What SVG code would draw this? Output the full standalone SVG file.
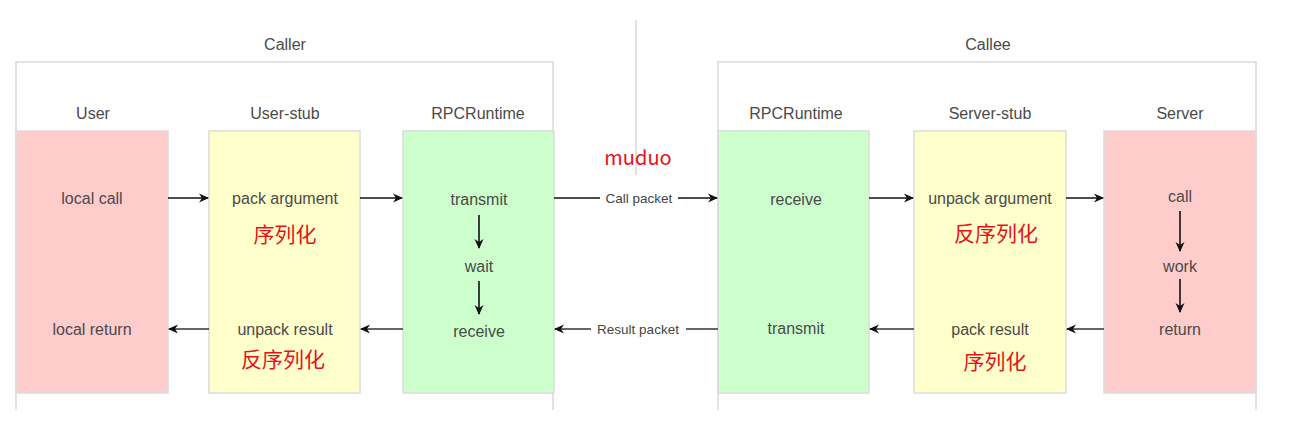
<svg xmlns="http://www.w3.org/2000/svg" width="1295" height="429" viewBox="0 0 1295 429">
<style>
.cont{fill:none;stroke:#d9d9d9;stroke-width:1.5}
.t{font-family:"Liberation Sans",Arial,sans-serif;font-size:16px;fill:#4a4a4a;text-anchor:middle}
.s{font-family:"Liberation Sans",Arial,sans-serif;font-size:13.5px;fill:#444;text-anchor:middle}
.r{font-family:"Noto Sans CJK SC",sans-serif;font-size:21px;fill:#e8101a;text-anchor:middle}
.pink{fill:#ffcccc;stroke:#dcdcdc;stroke-width:1.5}
.yel{fill:#ffffcc;stroke:#dcdcdc;stroke-width:1.5}
.grn{fill:#ccffcc;stroke:#dcdcdc;stroke-width:1.5}
.a{stroke:#111;stroke-width:1.6;fill:none;marker-end:url(#ah)}
.ag{stroke:#333;stroke-width:1.6;fill:none;marker-end:url(#ah)}
</style>
<defs>
<marker id="ah" viewBox="0 0 10 10" refX="9" refY="5" markerWidth="10" markerHeight="10" markerUnits="userSpaceOnUse" orient="auto">
<path d="M0,0.5 L10,5 L0,9.5 L3,5 z" fill="#111"/>
</marker>
</defs>
<rect width="1295" height="429" fill="#fff"/>
<g id="caller">
<path class="cont" d="M16,410 V62 H553 V410"/>
<text class="t" x="285" y="50">Caller</text>
</g>
<g id="callee">
<path class="cont" d="M718,410 V62 H1256 V410"/>
<text class="t" x="988" y="50">Callee</text>
</g>
<line x1="636" y1="20" x2="636" y2="175" stroke="#cfcfcf" stroke-width="1.2"/>
<g id="user">
<text class="t" x="93" y="119">User</text>
<rect class="pink" x="16" y="131" width="152" height="262"/>
<text class="t" x="92" y="204">local call</text>
<text class="t" x="92" y="335">local return</text>
</g>
<g id="user-stub">
<text class="t" x="285" y="119">User-stub</text>
<rect class="yel" x="209" y="131" width="151" height="262"/>
<text class="t" x="285" y="204">pack argument</text>
<text class="r" x="285" y="242">序列化</text>
<text class="t" x="285" y="335">unpack result</text>
<text class="r" x="283" y="367">反序列化</text>
</g>
<g id="rpc-caller">
<text class="t" x="478" y="119">RPCRuntime</text>
<rect class="grn" x="403" y="131" width="151" height="262"/>
<text class="t" x="479" y="205">transmit</text>
<text class="t" x="479" y="272">wait</text>
<text class="t" x="479" y="337">receive</text>
</g>
<g id="rpc-callee">
<text class="t" x="796" y="119">RPCRuntime</text>
<rect class="grn" x="718" y="131" width="151" height="262"/>
<text class="t" x="796" y="205">receive</text>
<text class="t" x="796" y="334">transmit</text>
</g>
<g id="server-stub">
<text class="t" x="990" y="119">Server-stub</text>
<rect class="yel" x="914" y="131" width="152" height="262"/>
<text class="t" x="990" y="204">unpack argument</text>
<text class="r" x="996" y="241">反序列化</text>
<text class="t" x="990" y="335">pack result</text>
<text class="r" x="995" y="369">序列化</text>
</g>
<g id="server">
<text class="t" x="1180" y="119">Server</text>
<rect class="pink" x="1104" y="131" width="152" height="262"/>
<text class="t" x="1180" y="202">call</text>
<text class="t" x="1180" y="272">work</text>
<text class="t" x="1180" y="335">return</text>
</g>
<g id="muduo">
<text class="r" x="638" y="165" style="font-size:20px">muduo</text>
</g>
<g id="connectors">
<line class="a" x1="168" y1="198" x2="208" y2="198"/>
<line class="a" x1="360" y1="198" x2="402" y2="198"/>
<line class="a" x1="554" y1="198" x2="717" y2="198"/>
<line class="a" x1="869" y1="198" x2="913" y2="198"/>
<line class="a" x1="1066" y1="198" x2="1103" y2="198"/>
<line class="ag" x1="1104" y1="329" x2="1067" y2="329"/>
<line class="ag" x1="914" y1="329" x2="870" y2="329"/>
<line class="ag" x1="718" y1="329" x2="555" y2="329"/>
<line class="ag" x1="403" y1="329" x2="361" y2="329"/>
<line class="ag" x1="209" y1="329" x2="169" y2="329"/>
<line class="a" x1="479" y1="215" x2="479" y2="248"/>
<line class="a" x1="479" y1="281" x2="479" y2="314"/>
<line class="a" x1="1180" y1="211" x2="1180" y2="251"/>
<line class="a" x1="1180" y1="279" x2="1180" y2="312"/>
<rect x="600" y="190" width="78" height="16" fill="#fff"/>
<text class="s" x="639" y="203">Call packet</text>
<rect x="591" y="321" width="95" height="16" fill="#fff"/>
<text class="s" x="638" y="334">Result packet</text>
</g>
</svg>
